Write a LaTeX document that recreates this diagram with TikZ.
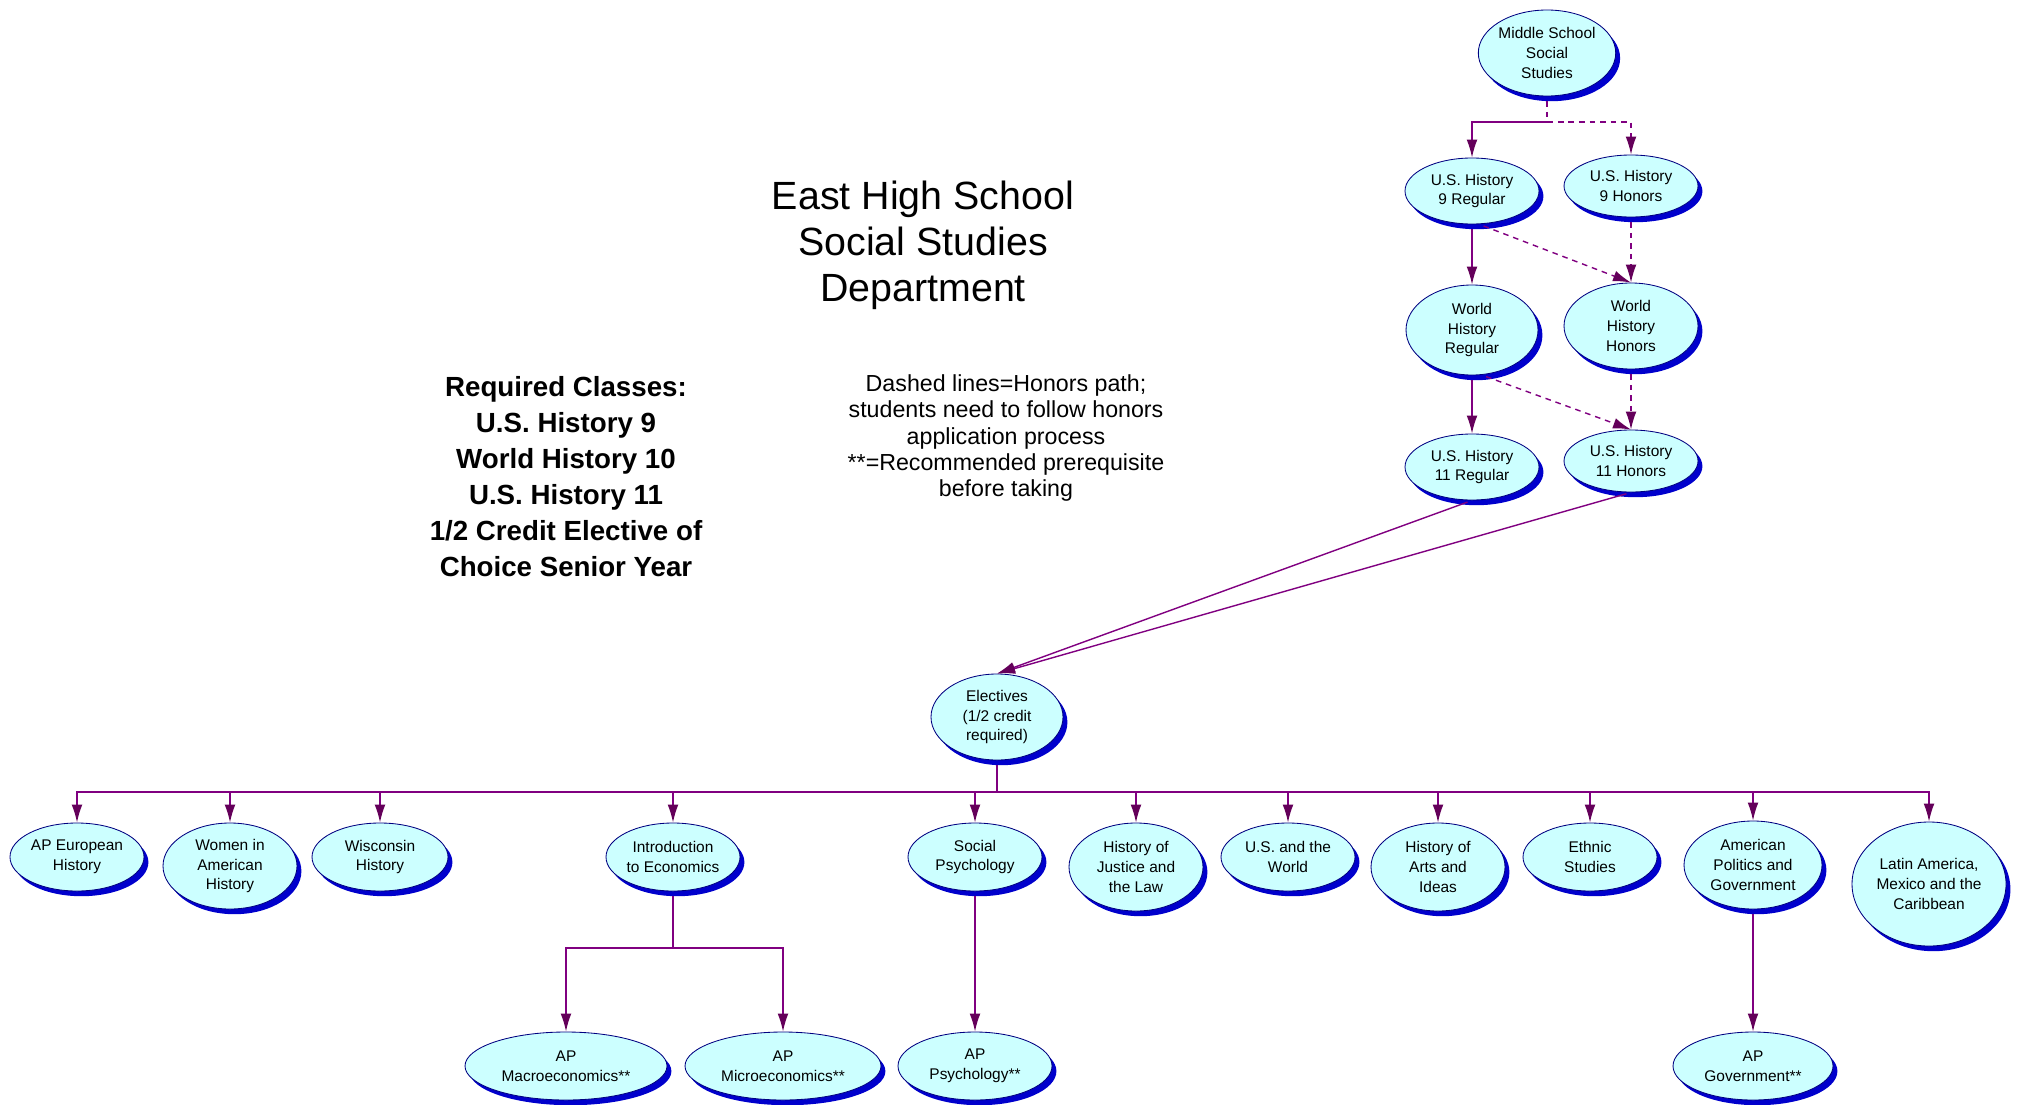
\documentclass[tikz,border=0pt]{standalone}
\usepackage{fontspec}
\setmainfont{Liberation Sans}
\usetikzlibrary{arrows.meta, shapes.geometric, shadows}

\definecolor{bubble}{RGB}{204,255,255}
\definecolor{rim}{RGB}{0,0,128}
\definecolor{rimshadow}{RGB}{0,0,204}
\definecolor{linkpurple}{RGB}{128,0,128}
\definecolor{tippurple}{RGB}{100,0,90}

\begin{document}
\begin{tikzpicture} [x=0.025cm, y=-0.025cm,
	course/.style={ellipse, draw=rim, line width=0.6pt, fill=bubble, inner sep=0pt, align=center,
		font=\fontsize{11}{14.2}\selectfont,
		drop shadow={shadow xshift=0.11cm, shadow yshift=-0.13cm, fill=rimshadow, opacity=1}},
	dims/.style 2 args={minimum width=#1*0.025cm, minimum height=#2*0.025cm},
	link/.style={draw=linkpurple, line width=1pt},
	req/.style={link, -{Latex[length=0.45cm, width=0.27cm, color=tippurple]}},
	hon/.style={req, dash pattern=on 4pt off 3.5pt},
	off/.style={shorten <=0.12cm}]
	
	\useasboundingbox (0,0) rectangle (2022,1104);
	
	% headings
	\node[align=center, font=\fontsize{28}{32.7}\selectfont] (title) at (923,245)
		{East High School\\Social Studies\\Department};
	\node[align=center, font=\fontsize{19.7}{25.6}\selectfont\bfseries] (required) at (566,477)
		{Required Classes:\\U.S. History 9\\World History 10\\U.S. History 11\\1/2 Credit Elective of\\Choice Senior Year};
	\node[align=center, font=\fontsize{16.5}{18.8}\selectfont] (legend) at (1006,438)
		{Dashed lines=Honors path;\\students need to follow honors\\application process\\**=Recommended prerequisite\\before taking};
	
	% required sequence
	\node[course, dims={132}{86}] (ms) at (1547,53) {Middle School\\Social\\Studies};
	\node[course, dims={134}{66}] (us9r) at (1472,191) {U.S. History\\9 Regular};
	\node[course, dims={134}{62}] (us9h) at (1631,186) {U.S. History\\9 Honors};
	\node[course, dims={132}{90}] (whr) at (1472,330) {World\\History\\Regular};
	\node[course, dims={134}{86}] (whh) at (1631,326) {World\\History\\Honors};
	\node[course, dims={134}{66}] (us11r) at (1472,467) {U.S. History\\11 Regular};
	\node[course, dims={134}{62}] (us11h) at (1631,461) {U.S. History\\11 Honors};
	\node[course, dims={132}{86}] (elec) at (997,717) {Electives\\(1/2 credit\\required)};
	
	% electives
	\node[course, dims={134}{68}] (apeuro) at (77,857) {AP European\\History};
	\node[course, dims={134}{86}] (women) at (230,866) {Women in\\American\\History};
	\node[course, dims={136}{68}] (wisc) at (380,857) {Wisconsin\\History};
	\node[course, dims={134}{68}] (intro) at (673,857) {Introduction\\to Economics};
	\node[course, dims={134}{68}] (socpsy) at (975,857) {Social\\Psychology};
	\node[course, dims={134}{88}] (justice) at (1136,867) {History of\\Justice and\\the Law};
	\node[course, dims={134}{68}] (usworld) at (1288,857) {U.S. and the\\World};
	\node[course, dims={134}{88}] (arts) at (1438,867) {History of\\Arts and\\Ideas};
	\node[course, dims={134}{68}] (ethnic) at (1590,857) {Ethnic\\Studies};
	\node[course, dims={138}{88}] (ampol) at (1753,865) {American\\Politics and\\Government};
	\node[course, dims={154}{124}] (latin) at (1929,884) {Latin America,\\Mexico and the\\Caribbean};
	
	% AP courses
	\node[course, dims={202}{68}] (apmacro) at (566,1066) {AP\\Macroeconomics**};
	\node[course, dims={196}{68}] (apmicro) at (783,1066) {AP\\Microeconomics**};
	\node[course, dims={154}{68}] (appsy) at (975,1066) {AP\\Psychology**};
	\node[course, dims={160}{68}] (apgov) at (1753,1066) {AP\\Government**};
	
	\coordinate (split) at (1547,122);
	\coordinate (ebus) at (997,792);
	\coordinate (ibus) at (673,948);
	
	% connectors
	\draw[hon, off] (ms.south) -- (split) -| (us9h.north);
	\draw[req] (split) -| (us9r.north);
	\draw[req, off] (us9r.south) -- (whr.north);
	\draw[hon, off] (us9r.282) -- (whh.north);
	\draw[hon, off] (us9h.south) -- (whh.north);
	\draw[req, off] (whr.south) -- (us11r.north);
	\draw[hon, off] (whr.282) -- (us11h.north);
	\draw[hon, off] (whh.south) -- (us11h.north);
	\draw[req, off] (us11r.south) -- (elec.north);
	\draw[req, off] (us11h.south) -- (elec.north);
	
	\draw[link, off] (elec.south) -- (ebus);
	\foreach \c in {apeuro, women, wisc, intro, socpsy, justice, usworld, arts, ethnic, ampol, latin}
		\draw[req] (ebus) -| (\c.north);
	
	\draw[link, off] (intro.south) -- (ibus);
	\draw[req] (ibus) -| (apmacro.north);
	\draw[req] (ibus) -| (apmicro.north);
	\draw[req, off] (socpsy.south) -- (appsy.north);
	\draw[req, off] (ampol.south) -- (apgov.north);
	
\end{tikzpicture}
\end{document}
